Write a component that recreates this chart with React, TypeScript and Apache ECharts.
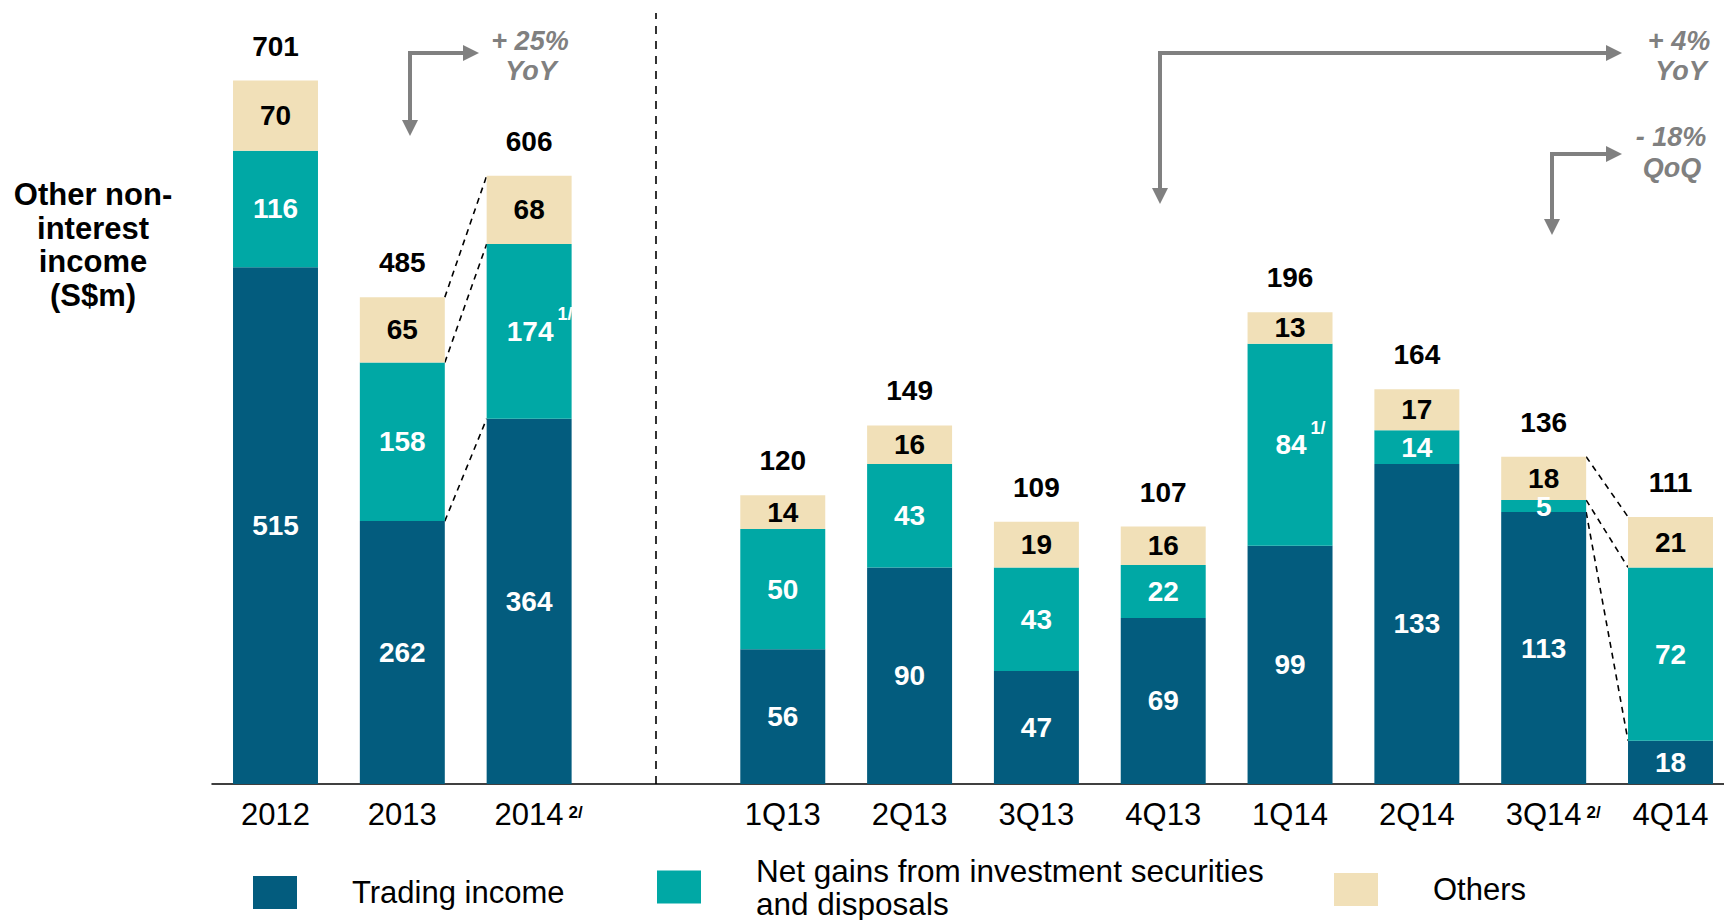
import React, { useEffect, useRef } from "react";
import * as echarts from "echarts";

const years = ["2012", "2013", "2014"];
const yearFootnotes = ["", "", "2/"];
const annualTrading = [515, 262, 364];
const annualNetGains = [116, 158, 174];
const annualNetGainsNotes = ["", "", "1/"];
const annualOthers = [70, 65, 68];
const annualTotals = [701, 485, 606];

const quarters = ["1Q13", "2Q13", "3Q13", "4Q13", "1Q14", "2Q14", "3Q14", "4Q14"];
const quarterFootnotes = ["", "", "", "", "", "", "2/", ""];
const quarterTrading = [56, 90, 47, 69, 99, 133, 113, 18];
const quarterNetGains = [50, 43, 43, 22, 84, 14, 5, 72];
const quarterNetGainsNotes = ["", "", "", "", "1/", "", "", ""];
const quarterOthers = [14, 16, 19, 16, 13, 17, 18, 21];
const quarterTotals = [120, 149, 109, 107, 196, 164, 136, 111];

const annualPair = [1, 2];
const quarterPair = [6, 7];

const SERIES_NAMES = ["Trading income", "Net gains from investment securities and disposals", "Others"];
const C_TRADING = "#035c7e";
const C_NET = "#00a8a5";
const C_OTHERS = "#f1e0b8";
const FONT = "'Liberation Sans', Arial, sans-serif";
const GRAY = "#808080";

export default function App() {
  const ref = useRef<HTMLDivElement>(null);

  useEffect(() => {
    if (!ref.current) return;
    const chart = echarts.init(ref.current, null, { renderer: "svg" });

    const categories = [...years, "", ...quarters];
    const catFootnotes = [...yearFootnotes, "", ...quarterFootnotes];
    const qOffset = years.length + 1;
    const padQ = (arr: number[]) => [...Array(qOffset).fill("-"), ...arr];

    const segLabel = (color: string, notes?: string[], offset = 0) => ({
      show: true,
      position: "inside",
      color,
      fontSize: 28,
      fontWeight: "bold",
      fontFamily: FONT,
      formatter: (p: any) => {
        const n = notes ? notes[p.dataIndex - offset] : "";
        return n ? `{n|${p.value}}{sup|${n}}` : `${p.value}`;
      },
      rich: {
        n: { color, fontSize: 28, fontWeight: "bold", fontFamily: FONT, padding: [0, 0, 0, 21] },
        sup: { color, fontSize: 18, fontWeight: "bold", fontFamily: FONT, padding: [0, 0, 34, 4] },
      },
    });

    const barCommon = { type: "bar", barWidth: "67%", stack: "s", clip: false };

    const makePanel = (
      gridIdx: number,
      trading: any[],
      net: any[],
      others: any[],
      totals: any[],
      notes: string[],
      offset: number
    ) => [
      {
        ...barCommon,
        name: SERIES_NAMES[0],
        xAxisIndex: gridIdx,
        yAxisIndex: gridIdx,
        data: trading,
        itemStyle: { color: C_TRADING },
        label: segLabel("#fff"),
      },
      {
        ...barCommon,
        name: SERIES_NAMES[1],
        xAxisIndex: gridIdx,
        yAxisIndex: gridIdx,
        data: net,
        itemStyle: { color: C_NET },
        label: segLabel("#fff", notes, offset),
      },
      {
        ...barCommon,
        name: SERIES_NAMES[2],
        xAxisIndex: gridIdx,
        yAxisIndex: gridIdx,
        data: others,
        itemStyle: { color: C_OTHERS },
        label: segLabel("#000"),
      },
      {
        type: "scatter",
        name: "Total",
        xAxisIndex: gridIdx,
        yAxisIndex: gridIdx,
        data: totals,
        symbolSize: 1,
        itemStyle: { color: "transparent", opacity: 1 },
        label: {
          show: true,
          position: "top",
          distance: 20,
          color: "#000",
          opacity: 1,
          fontSize: 28,
          fontWeight: "bold",
          fontFamily: FONT,
        },
      },
    ];

    const connectorData = (
      pair: number[],
      offset: number,
      trading: number[],
      net: number[],
      totals: number[]
    ) => {
      const [i, j] = pair;
      return [
        [offset + i, offset + j, totals[i], totals[j]],
        [offset + i, offset + j, trading[i] + net[i], trading[j] + net[j]],
        [offset + i, offset + j, trading[i], trading[j]],
      ];
    };

    const connectorSeries = (gridIdx: number, data: number[][]) => ({
      type: "custom",
      xAxisIndex: gridIdx,
      yAxisIndex: gridIdx,
      silent: true,
      encode: { x: [0, 1], y: [2, 3] },
      data,
      renderItem: (params: any, api: any) => {
        const p1 = api.coord([api.value(0), api.value(2)]);
        const p2 = api.coord([api.value(1), api.value(3)]);
        const half = (api.size([1, 0])[0] * 0.67) / 2;
        return {
          type: "line",
          shape: { x1: p1[0] + half, y1: p1[1], x2: p2[0] - half, y2: p2[1] },
          style: { stroke: "#000", lineWidth: 1.6, lineDash: [6, 5] },
        };
      },
    });

    const arrow = (cx: number, cy: number, downTip: number, rightTip: number) => [
      {
        type: "polyline",
        shape: { points: [[cx, downTip - 12], [cx, cy], [rightTip - 12, cy]] },
        style: { stroke: GRAY, lineWidth: 4, fill: null },
        silent: true,
      },
      {
        type: "polygon",
        shape: { points: [[cx - 8, downTip - 16], [cx + 8, downTip - 16], [cx, downTip]] },
        style: { fill: GRAY },
        silent: true,
      },
      {
        type: "polygon",
        shape: { points: [[rightTip - 16, cy - 8], [rightTip - 16, cy + 8], [rightTip, cy]] },
        style: { fill: GRAY },
        silent: true,
      },
    ];

    const note = (text: string, x: number, y: number) => ({
      type: "text",
      x,
      y,
      silent: true,
      style: {
        text,
        fill: GRAY,
        fontSize: 27,
        fontWeight: "bold",
        fontStyle: "italic",
        fontFamily: FONT,
        align: "center",
        verticalAlign: "middle",
      },
    });

    // bar centres: 2012 at x=275.5, 4Q14 at x=1670.5
    const gridGeom = { left: 275.5, top: 13, width: 1395, bottom: 136 };

    const legendCommon = {
      orient: "horizontal",
      icon: "rect",
      itemWidth: 44,
      itemHeight: 33,
      padding: 0,
      selectedMode: false,
      textStyle: { fontSize: 31, color: "#000", fontFamily: FONT, lineHeight: 33 },
    };

    const option: any = {
      animation: false,
      backgroundColor: "#fff",
      grid: [gridGeom, gridGeom, { left: 212, right: 0, top: 13, bottom: 136 }],
      xAxis: [
        {
          gridIndex: 0,
          type: "category",
          boundaryGap: false,
          data: categories,
          axisLine: { show: false },
          axisTick: { show: false },
          splitLine: { show: false },
          axisLabel: {
            interval: 0,
            margin: 15,
            color: "#000",
            fontSize: 31,
            fontFamily: FONT,
            formatter: (v: string, idx: number) => {
              const fn = catFootnotes[idx];
              return fn ? `{n|${v}}{sup|${fn}}` : v;
            },
            rich: {
              n: { color: "#000", fontSize: 31, fontFamily: FONT, padding: [0, 0, 0, 19] },
              sup: { color: "#000", fontSize: 17, fontWeight: "bold", fontFamily: FONT, padding: [0, 0, 5, 5] },
            },
          },
        },
        { gridIndex: 1, type: "category", boundaryGap: false, data: categories, show: false },
        {
          gridIndex: 2,
          type: "value",
          min: 0,
          max: 1,
          axisLine: { show: true, lineStyle: { color: "#000", width: 1.5 } },
          axisTick: { show: false },
          axisLabel: { show: false },
          splitLine: { show: false },
        },
      ],
      yAxis: [
        { gridIndex: 0, type: "value", min: 0, max: 768.3, show: false, splitLine: { show: false } },
        { gridIndex: 1, type: "value", min: 0, max: 320.4, show: false, splitLine: { show: false } },
        { gridIndex: 2, type: "value", min: 0, max: 1, show: false, splitLine: { show: false } },
      ],
      legend: [
        { ...legendCommon, data: [SERIES_NAMES[0]], left: 253, top: 876, textStyle: { ...legendCommon.textStyle, padding: [0, 0, 0, 50] } },
        {
          ...legendCommon,
          data: [SERIES_NAMES[1]],
          left: 657,
          top: 854,
          formatter: () => "Net gains from investment securities\nand disposals",
          textStyle: { ...legendCommon.textStyle, fontSize: 31.5, padding: [0, 0, 0, 50] },
        },
        { ...legendCommon, data: [SERIES_NAMES[2]], left: 1334, top: 873, textStyle: { ...legendCommon.textStyle, padding: [0, 0, 0, 50] } },
      ],
      series: [
        ...makePanel(0, annualTrading, annualNetGains, annualOthers, annualTotals, annualNetGainsNotes, 0),
        ...makePanel(
          1,
          padQ(quarterTrading),
          padQ(quarterNetGains),
          padQ(quarterOthers),
          padQ(quarterTotals),
          quarterNetGainsNotes,
          qOffset
        ),
        connectorSeries(0, connectorData(annualPair, 0, annualTrading, annualNetGains, annualTotals)),
        connectorSeries(1, connectorData(quarterPair, qOffset, quarterTrading, quarterNetGains, quarterTotals)),
        {
          type: "line",
          xAxisIndex: 0,
          yAxisIndex: 0,
          data: [],
          silent: true,
          markLine: {
            symbol: "none",
            silent: true,
            label: { show: false },
            lineStyle: { color: "#000", width: 1.6, type: [8, 7] },
            data: [{ xAxis: years.length }],
          },
        },
      ],
      graphic: [
        {
          type: "text",
          x: 93,
          y: 245,
          silent: true,
          style: {
            text: "Other non-\ninterest\nincome\n(S$m)",
            fill: "#000",
            fontSize: 31,
            fontWeight: "bold",
            fontFamily: FONT,
            lineHeight: 33.5,
            align: "center",
            verticalAlign: "middle",
          },
        },
        ...arrow(410, 53, 136, 479),
        ...arrow(1160, 53, 204, 1622),
        ...arrow(1552, 154, 235, 1622),
        note("+ 25%", 530, 41),
        note("YoY", 531, 71),
        note("+ 4%", 1679, 41),
        note("YoY", 1681, 71),
        note("- 18%", 1671, 137),
        note("QoQ", 1672, 168),
      ],
    };

    chart.setOption(option);
    return () => chart.dispose();
  }, []);

  return (
    <div
      ref={ref}
      style={{ position: "absolute", left: 0, top: 0, width: 1724, height: 920, overflow: "hidden" }}
    />
  );
}
